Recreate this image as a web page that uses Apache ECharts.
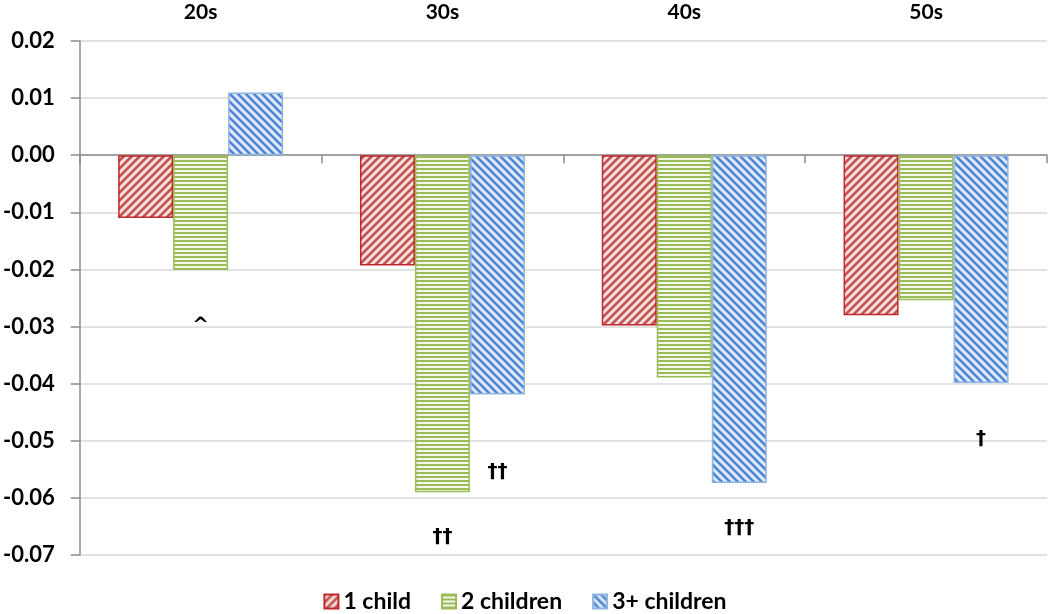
<!DOCTYPE html>
<html>
<head>
<meta charset="utf-8">
<script src="https://cdn.jsdelivr.net/npm/echarts@6/dist/echarts.min.js"></script>
<style>
html,body{margin:0;padding:0;background:#fff;}
#chart{width:1050px;height:614px;}
</style>
</head>
<body>
<div id="chart"></div>
<script>
// ---- data ----
const categories = ['20s', '30s', '40s', '50s'];
const seriesNames = ['1 child', '2 children', '3+ children'];
const oneChild = [-0.0110, -0.0193, -0.0298, -0.0280];
const twoChildren = [-0.0201, -0.0590, -0.0389, -0.0254];
const threePlusChildren = [0.0110, -0.0419, -0.0574, -0.0399];
// annotations: category index, series index, y value, text
const annotCategory = [0, 1, 1, 2, 3];
const annotSeries = [1, 1, 2, 2, 2];
const annotValue = [-0.0298, -0.0669, -0.0555, -0.0653, -0.0497];
const annotText = ['^', '††', '††', '†††', '†'];
const yTicks = { min: -0.07, max: 0.02, interval: 0.01 };

// ---- patterns ----
function makePattern(kind) {
  const c = document.createElement('canvas');
  const ctx = c.getContext('2d');
  if (kind === 'red' || kind === 'blue') {
    const s = 8;
    c.width = s; c.height = s;
    ctx.fillStyle = kind === 'red' ? '#F6DEDD' : '#DFE8F5';
    ctx.fillRect(0, 0, s, s);
    ctx.strokeStyle = kind === 'red' ? '#C0504D' : '#4A86D4';
    ctx.lineWidth = 2.6;
    ctx.beginPath();
    if (kind === 'red') {
      ctx.moveTo(-2, s + 2); ctx.lineTo(s + 2, -2);
      ctx.moveTo(-2, 2); ctx.lineTo(2, -2);
      ctx.moveTo(s - 2, s + 2); ctx.lineTo(s + 2, s - 2);
    } else {
      ctx.moveTo(-2, -2); ctx.lineTo(s + 2, s + 2);
      ctx.moveTo(-2, s - 2); ctx.lineTo(2, s + 2);
      ctx.moveTo(s - 2, -2); ctx.lineTo(s + 2, 2);
    }
    ctx.stroke();
  } else {
    c.width = 4; c.height = 4;
    ctx.fillStyle = '#F3F8EA';
    ctx.fillRect(0, 0, 4, 4);
    ctx.fillStyle = '#9BBB59';
    ctx.fillRect(0, 0, 4, 2);
  }
  return { image: c, repeat: 'repeat' };
}

const fills = [makePattern('red'), makePattern('green'), makePattern('blue')];
const borders = ['#C0262A', '#9BBB59', '#8EB4E3'];
const values = [oneChild, twoChildren, threePlusChildren];
const BAR_W = 55;
const FONT = 'Lato, "Open Sans", sans-serif';
const MARK_FONT = '"DejaVu Sans", sans-serif';

const chart = echarts.init(document.getElementById('chart'), null, { renderer: 'canvas' });

const barSeries = seriesNames.map((name, i) => ({
  name: name,
  type: 'bar',
  xAxisIndex: 0,
  yAxisIndex: 0,
  barWidth: BAR_W,
  barGap: '0%',
  data: values[i],
  itemStyle: { color: fills[i], borderColor: borders[i], borderWidth: 1.5 },
  emphasis: { disabled: true },
  animation: false
}));

const annotData = annotText.map((t, i) => [annotCategory[i], annotSeries[i], annotValue[i]]);

const option = {
  backgroundColor: '#ffffff',
  animation: false,
  grid: { left: 77, right: 3, top: 41, bottom: 59, containLabel: false },
  legend: {
    data: seriesNames,
    bottom: -4,
    left: 'center',
    itemWidth: 14,
    itemHeight: 14,
    itemGap: 30,
    icon: 'rect',
    textStyle: { fontFamily: FONT, fontWeight: 'bold', fontSize: 23, color: '#000' }
  },
  xAxis: [
    {
      type: 'category',
      data: categories,
      position: 'bottom',
      axisLine: { onZero: true, lineStyle: { color: '#8C8C8C', width: 1.5 } },
      axisTick: { show: true, length: 8, lineStyle: { color: '#8C8C8C', width: 1.5 } },
      axisLabel: { show: false },
      splitLine: { show: false }
    },
    {
      type: 'category',
      data: categories,
      position: 'top',
      axisLine: { show: false, onZero: false },
      axisTick: { show: false },
      axisLabel: { show: true, margin: 18, fontFamily: FONT, fontWeight: 'bold', fontSize: 21, color: '#000' },
      splitLine: { show: false }
    }
  ],
  yAxis: {
    type: 'value',
    min: yTicks.min,
    max: yTicks.max,
    interval: yTicks.interval,
    axisLine: { show: true, lineStyle: { color: '#8C8C8C', width: 1.5 } },
    axisTick: { show: true, length: 9, lineStyle: { color: '#8C8C8C', width: 1.5 } },
    axisLabel: {
      margin: 25,
      fontFamily: FONT, fontWeight: 'bold', fontSize: 22, color: '#000',
      formatter: v => (Math.abs(v) < 1e-9 ? 0 : v).toFixed(2)
    },
    splitLine: { show: true, lineStyle: { color: '#D9D9D9', width: 1.5 } }
  },
  series: barSeries.concat([{
    type: 'custom',
    name: 'annotations',
    xAxisIndex: 0,
    yAxisIndex: 0,
    silent: true,
    data: annotData,
    encode: { x: 0, y: 2 },
    renderItem: function (params, api) {
      const p = api.coord([api.value(0), api.value(2)]);
      const offset = (api.value(1) - 1) * BAR_W;
      return {
        type: 'text',
        x: p[0] + offset,
        y: p[1],
        style: {
          text: annotText[params.dataIndex],
          fontFamily: MARK_FONT,
          fontWeight: 'bold',
          fontSize: 20,
          fill: '#000',
          align: 'center',
          verticalAlign: 'middle'
        }
      };
    }
  }])
};

chart.setOption(option);
</script>
</body>
</html>
